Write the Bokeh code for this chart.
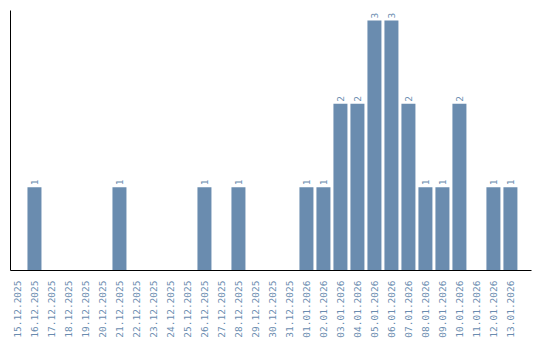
import math
from bokeh.plotting import figure
from bokeh.models import ColumnDataSource, Range1d, FixedTicker
from bokeh.core.properties import value
from bokeh.embed import file_html
from bokeh.resources import INLINE

dates = ["15.12.2025", "16.12.2025", "17.12.2025", "18.12.2025", "19.12.2025",
         "20.12.2025", "21.12.2025", "22.12.2025", "23.12.2025", "24.12.2025",
         "25.12.2025", "26.12.2025", "27.12.2025", "28.12.2025", "29.12.2025",
         "30.12.2025", "31.12.2025", "01.01.2026", "02.01.2026", "03.01.2026",
         "04.01.2026", "05.01.2026", "06.01.2026", "07.01.2026", "08.01.2026",
         "09.01.2026", "10.01.2026", "11.01.2026", "12.01.2026", "13.01.2026"]
counts = [0, 1, 0, 0, 0, 0, 1, 0, 0, 0, 0, 1, 0, 1, 0, 0, 0, 1, 1, 2, 2, 3, 3, 2, 1, 1, 2, 0, 1, 1]

COLOR = "#6a8caf"
FONT = "DejaVu Sans Mono"

idx = list(range(len(dates)))
src = ColumnDataSource(dict(x=idx, c=counts))
lab = ColumnDataSource(dict(x=[i for i, c in zip(idx, counts) if c > 0],
                            c=[c for c in counts if c > 0],
                            t=[str(c) for c in counts if c > 0]))

p = figure(x_range=Range1d(-0.41, 30.24), y_range=Range1d(0, 3.12), width=540, height=340,
           output_backend="svg", toolbar_location=None,
           min_border_left=10, min_border_right=9, min_border_top=10, min_border_bottom=0)
p.vbar(x="x", top="c", width=14 / 17, source=src, color=COLOR, line_color=None)
p.text(x="x", y="c", text="t", source=lab, angle=math.pi / 2, text_align="left",
       text_baseline="middle", x_offset=0, y_offset=-2, text_color=COLOR,
       text_font=value(FONT), text_font_size="9.5px")

p.grid.visible = False
p.outline_line_color = None
p.background_fill_color = "white"

xa = p.xaxis[0]
xa.ticker = FixedTicker(ticks=idx)
xa.major_label_overrides = {i: d for i, d in zip(idx, dates)}
xa.major_label_orientation = math.pi / 2
xa.major_label_text_font = FONT
xa.major_label_text_font_size = "9.5px"
xa.major_label_text_color = COLOR
xa.major_tick_line_color = None
xa.minor_tick_line_color = None
xa.axis_line_color = "black"
xa.axis_line_width = 1
xa.major_label_standoff = 4

ya = p.yaxis[0]
ya.ticker = FixedTicker(ticks=[])
ya.major_label_text_font_size = "0px"
ya.major_tick_line_color = None
ya.minor_tick_line_color = None
ya.axis_line_color = "black"
ya.major_label_standoff = 0

open("out.html", "w").write(file_html(p, INLINE))
